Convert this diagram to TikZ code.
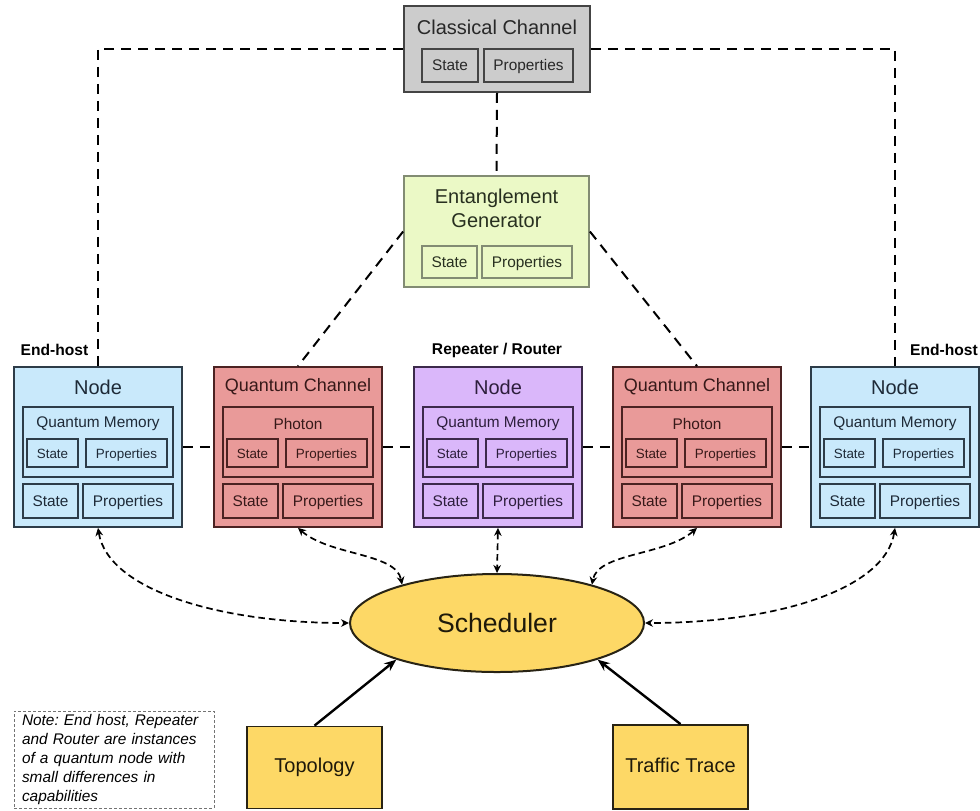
\documentclass[tikz,border=0pt]{standalone}
\usepackage{fontspec}
\setmainfont{Liberation Sans}
\usetikzlibrary{arrows.meta}
\usetikzlibrary{shapes.geometric}
\definecolor{ccfill}{RGB}{204,204,204}
\definecolor{ccline}{RGB}{68,68,68}
\definecolor{cctxt}{RGB}{40,40,40}
\definecolor{egfill}{RGB}{235,249,198}
\definecolor{egline}{RGB}{130,140,115}
\definecolor{egtxt}{RGB}{40,48,32}
\definecolor{hostfill}{RGB}{201,233,251}
\definecolor{hostline}{RGB}{45,60,72}
\definecolor{hosttxt}{RGB}{30,42,55}
\definecolor{chanfill}{RGB}{233,154,153}
\definecolor{chanline}{RGB}{75,34,34}
\definecolor{chantxt}{RGB}{55,25,25}
\definecolor{rtfill}{RGB}{218,183,250}
\definecolor{rtline}{RGB}{60,42,75}
\definecolor{rttxt}{RGB}{45,30,60}
\definecolor{schfill}{RGB}{253,216,102}
\definecolor{schline}{RGB}{40,35,20}
\definecolor{schtxt}{RGB}{30,25,10}
% one quantum element: name, left x, colour, title size, title, inner title
\newcommand{\qblock}[6]{%
  \node[box=#3, minimum width=84pt, minimum height=80pt] (#1) at (#2+84,447) {};
  \node[text=#3txt, font=\fontsize{#4}{12}\selectfont] (#1-title) at (#2+84,387) {#5};
  \node[box=#3, minimum width=75pt, minimum height=35pt] (#1-in) at (#2+84,442) {};
  \node[text=#3txt, fmid] (#1-intitle) at (#2+84,424) {#6};
  \node[box=#3, fsmall, minimum width=25.5pt, minimum height=14pt] (#1-instate) at (#2+38.5,453) {State};
  \node[box=#3, fsmall, minimum width=40.5pt, minimum height=14pt] (#1-inprop) at (#2+112.5,453) {Properties};
  \node[box=#3, fmid, minimum width=27.5pt, minimum height=17pt] (#1-state) at (#2+36.5,501) {State};
  \node[box=#3, fmid, minimum width=45pt, minimum height=17pt] (#1-prop) at (#2+114,501) {Properties};
}
\tikzset{
  box/.style={draw=#1line, fill=#1fill, text=#1txt, line width=0.9pt, inner sep=0pt,
    text height=0.72em, text depth=0.2em},
  link/.style={dash pattern=on 5pt off 3.5pt, line width=1pt},
  ctrl/.style={{Stealth[length=4pt,width=3.8pt]}-{Stealth[length=4pt,width=3.8pt]},
    dash pattern=on 3.3pt off 2pt, line width=0.85pt},
  feed/.style={-{Stealth[length=6pt,width=4.8pt]}, line width=1.2pt},
  fbig/.style={font=\fontsize{10}{12}\selectfont},
  fmid/.style={font=\fontsize{7.7}{9}\selectfont},
  fsmall/.style={font=\fontsize{6.7}{8}\selectfont},
  flab/.style={font=\bfseries\fontsize{7.8}{9}\selectfont}
}
\begin{document}
\frenchspacing
\begin{tikzpicture}[x=0.5pt,y=-0.5pt]
    \useasboundingbox (0,0) rectangle (980,810);

    % classical channel
    \node[box=cc, minimum width=93pt, minimum height=43pt] (cc) at (497,49) {};
    \node[text=cctxt, fbig] (cc-title) at (497,27) {Classical Channel};
    \node[box=cc, fmid, minimum width=28pt, minimum height=16.5pt] (cc-state) at (450,65.5) {State};
    \node[box=cc, fmid, minimum width=44.5pt, minimum height=16.5pt] (cc-prop) at (528.5,65.5) {Properties};

    % entanglement generator
    \node[box=eg, minimum width=92.5pt, minimum height=55.5pt] (eg) at (496.5,231.5) {};
    \node[text=egtxt, fbig, align=center] (eg-title) at (496.5,208) {Entanglement\\Generator};
    \node[box=eg, fmid, minimum width=27.5pt, minimum height=16pt] (eg-state) at (449.5,262) {State};
    \node[box=eg, fmid, minimum width=45pt, minimum height=16pt] (eg-prop) at (527,262) {Properties};

    % row of nodes and channels
    \qblock{host1}{14}{host}{10}{Node}{Quantum Memory}
    \qblock{chan1}{214}{chan}{9}{Quantum Channel}{Photon}
    \qblock{router}{414}{rt}{10}{Node}{Quantum Memory}
    \qblock{chan2}{613}{chan}{9}{Quantum Channel}{Photon}
    \qblock{host2}{811}{host}{10}{Node}{Quantum Memory}

    \node[flab] (lab-host1) at (54.5,350) {End-host};
    \node[flab] (lab-router) at (497,350) {Repeater / Router};
    \node[flab] (lab-host2) at (944,350) {End-host};

    % scheduler and inputs
    \node[ellipse, draw=schline, fill=schfill, text=schtxt, line width=1pt, inner sep=0pt,
          minimum width=147pt, minimum height=49pt, font=\fontsize{13.3}{15}\selectfont] (sched) at (497,623) {Scheduler};
    \node[box=sch, fbig, minimum width=67.5pt, minimum height=41pt] (topo) at (314.5,767.5) {Topology};
    \node[box=sch, fbig, minimum width=67.5pt, minimum height=42pt] (trace) at (680.5,767) {Traffic Trace};

    \node[draw=black!55, dash pattern=on 1.5pt off 1pt, line width=0.5pt, inner xsep=4pt, inner ysep=0pt,
          minimum width=100pt, minimum height=48.5pt, text width=92pt, align=left,
          font=\itshape\fontsize{7.7}{9.5}\selectfont] (note) at (114,759.5)
          {Note: End host, Repeater\\and Router are instances\\of a quantum node with\\small differences in\\capabilities};

    % dashed links
    \draw[link] (cc.west) -| (host1.north);
    \draw[link] (cc.east) -| (host2.north);
    \draw[link] (cc.south) -- (eg.north);
    \draw[link] (eg.west) -- (chan1.north);
    \draw[link] (eg.east) -- (chan2.north);
    \draw[link] (host1.east) -- (chan1.west);
    \draw[link] (chan1.east) -- (router.west);
    \draw[link] (router.east) -- (chan2.west);
    \draw[link] (chan2.east) -- (host2.west);

    % scheduler control
    \draw[ctrl] (host1.south) .. controls +(10,62) and +(-130,0) .. (sched.west);
    \draw[ctrl] (chan1.south) .. controls +(32,28) and +(-6,-32) .. (sched.158);
    \draw[ctrl] (router.south) -- (sched.north);
    \draw[ctrl] (chan2.south) .. controls +(-32,28) and +(6,-32) .. (sched.22);
    \draw[ctrl] (host2.south) .. controls +(-10,62) and +(130,0) .. (sched.east);

    \draw[feed] (topo.north) -- (sched.200);
    \draw[feed] (trace.north) -- (sched.-20);
\end{tikzpicture}
\end{document}
